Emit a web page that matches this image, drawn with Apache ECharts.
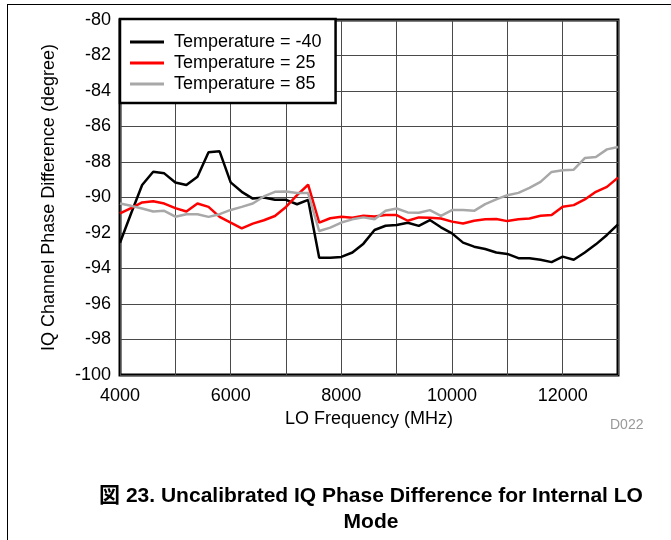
<!DOCTYPE html>
<html><head><meta charset="utf-8">
<script src="https://cdn.jsdelivr.net/npm/echarts@6/dist/echarts.min.js"></script>
<style>html,body{margin:0;padding:0;background:#fff}#c{width:671px;height:540px}</style>
</head><body><div id="c"></div>
<script>
const freq = [4000,4200,4400,4600,4800,5000,5200,5400,5600,5800,6000,6200,6400,6600,6800,7000,7200,7400,7600,7800,8000,8200,8400,8600,8800,9000,9200,9400,9600,9800,10000,10200,10400,10600,10800,11000,11200,11400,11600,11800,12000,12200,12400,12600,12800,13000];
const tempM40 = [-92.55,-90.9,-89.3,-88.55,-88.64,-89.15,-89.3,-88.83,-87.45,-87.4,-89.15,-89.68,-90.06,-90.0,-90.13,-90.13,-90.38,-90.13,-93.4,-93.4,-93.35,-93.1,-92.6,-91.83,-91.59,-91.55,-91.42,-91.6,-91.27,-91.68,-92.02,-92.54,-92.77,-92.9,-93.1,-93.18,-93.42,-93.42,-93.51,-93.64,-93.33,-93.51,-93.1,-92.64,-92.11,-91.51];
const temp25 = [-90.9,-90.6,-90.28,-90.21,-90.34,-90.6,-90.79,-90.34,-90.53,-91.09,-91.42,-91.74,-91.47,-91.28,-91.04,-90.53,-89.87,-89.28,-91.42,-91.17,-91.09,-91.14,-91.03,-91.07,-90.99,-90.99,-91.31,-91.12,-91.14,-91.18,-91.36,-91.46,-91.31,-91.23,-91.21,-91.33,-91.23,-91.18,-91.03,-90.99,-90.52,-90.43,-90.11,-89.68,-89.4,-88.88];
const temp85 = [-90.34,-90.47,-90.62,-90.79,-90.75,-91.08,-90.94,-90.94,-91.09,-90.94,-90.7,-90.53,-90.34,-89.94,-89.68,-89.66,-89.75,-89.75,-91.89,-91.7,-91.41,-91.23,-91.12,-91.23,-90.75,-90.62,-90.84,-90.86,-90.71,-91.03,-90.71,-90.71,-90.75,-90.37,-90.11,-89.87,-89.74,-89.46,-89.12,-88.56,-88.47,-88.43,-87.78,-87.72,-87.29,-87.16];
const seriesNames = ['Temperature = -40','Temperature = 25','Temperature = 85'];
const seriesColors = ['#000000','#ff0000','#a8a8a8'];
const xName = 'LO Frequency (MHz)';
const yName = 'IQ Channel Phase Difference (degree)';
const captionLine1 = '図 23. Uncalibrated IQ Phase Difference for Internal LO';
const captionLine2 = 'Mode';
const figId = 'D022';

const pair = (ys) => freq.map((f,i)=>[f,ys[i]]);
const font = '"Liberation Sans", Arial, "Noto Sans CJK JP", sans-serif';
const chart = echarts.init(document.getElementById('c'), null, {renderer:'canvas'});
chart.setOption({
  animation:false,
  textStyle:{fontFamily:font},
  grid:{left:120,right:53,top:20,bottom:165,show:true,borderColor:'#000',borderWidth:3,backgroundColor:'transparent'},
  xAxis:{type:'value',min:4000,max:13000,interval:1000,
    name:xName,nameLocation:'middle',nameGap:34,nameTextStyle:{fontSize:18,color:'#000',fontFamily:font},
    axisLine:{show:false},axisTick:{show:false},
    axisLabel:{fontSize:18,color:'#000',margin:12,fontFamily:font,formatter:v=>(v%2000===0?String(v):'')},
    splitLine:{show:true,lineStyle:{color:'#4a4a4a',width:1}}},
  yAxis:{type:'value',min:-100,max:-80,interval:2,
    name:yName,nameLocation:'middle',nameGap:62,nameTextStyle:{fontSize:18,color:'#000',fontFamily:font},
    axisLine:{show:false},axisTick:{show:false},
    axisLabel:{fontSize:18,color:'#000',margin:9,fontFamily:font},
    splitLine:{show:true,lineStyle:{color:'#4a4a4a',width:1}}},
  legend:{show:true,orient:'vertical',left:120,top:19,
    backgroundColor:'#fff',borderColor:'#000',borderWidth:2.5,
    padding:[14,14,10,10],itemGap:3,itemWidth:34,itemHeight:3,icon:'rect',
    textStyle:{fontSize:18,lineHeight:18,color:'#000',fontFamily:font,padding:[0,0,0,5]},
    data:seriesNames},
  series:[
    {name:seriesNames[0],type:'line',data:pair(tempM40),symbol:'none',lineStyle:{color:seriesColors[0],width:2.5},itemStyle:{color:seriesColors[0]}},
    {name:seriesNames[1],type:'line',data:pair(temp25),symbol:'none',lineStyle:{color:seriesColors[1],width:2.5},itemStyle:{color:seriesColors[1]}},
    {name:seriesNames[2],type:'line',data:pair(temp85),symbol:'none',lineStyle:{color:seriesColors[2],width:2.5},itemStyle:{color:seriesColors[2]}}
  ],
  graphic:[
    {type:'line',shape:{x1:7,y1:4.5,x2:671,y2:4.5},style:{stroke:'#000',lineWidth:1}},
    {type:'line',shape:{x1:7.5,y1:4,x2:7.5,y2:540},style:{stroke:'#000',lineWidth:1}},
    {type:'text',x:610,y:425,style:{text:figId,fontSize:14,fill:'#999',fontFamily:font,textVerticalAlign:'middle',verticalAlign:'middle'}},
    {type:'text',x:371,y:496,style:{text:captionLine1,fontSize:21,fontWeight:'bold',fill:'#000',align:'center',verticalAlign:'middle',textAlign:'center',textVerticalAlign:'middle',fontFamily:font}},
    {type:'text',x:371,y:522,style:{text:captionLine2,fontSize:21,fontWeight:'bold',fill:'#000',align:'center',verticalAlign:'middle',textAlign:'center',textVerticalAlign:'middle',fontFamily:font}}
  ]
});
</script></body></html>
